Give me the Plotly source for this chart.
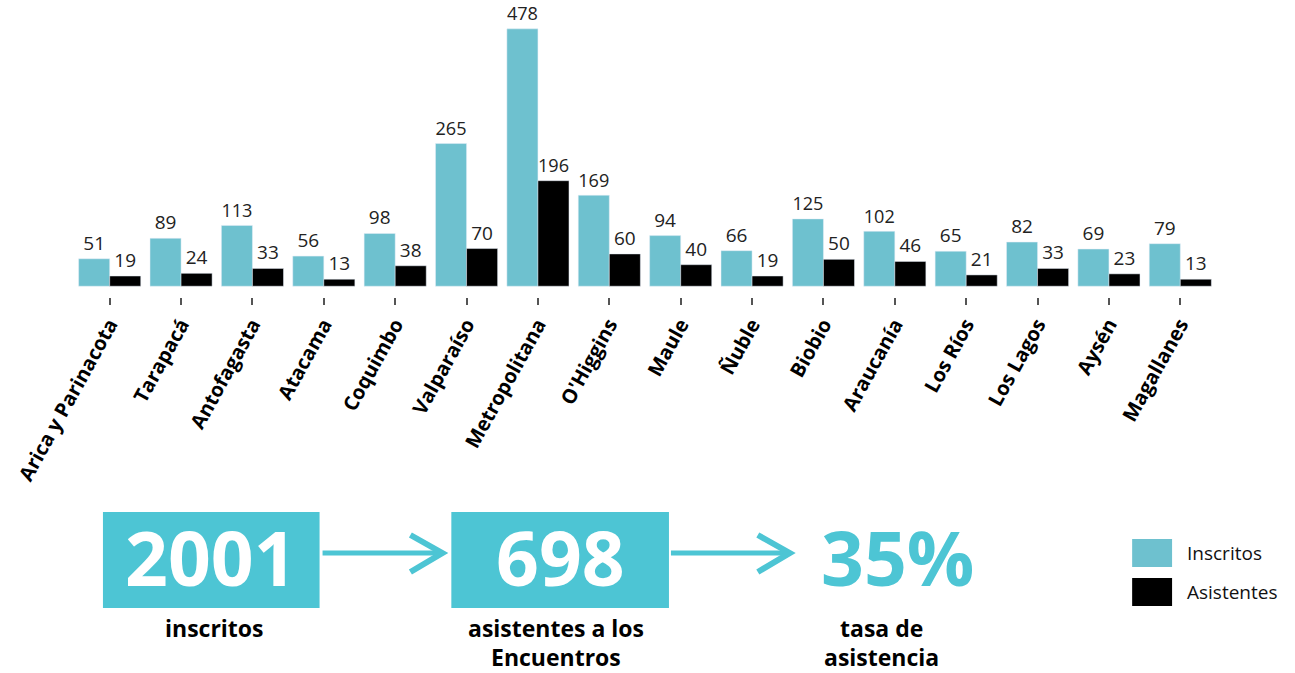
import plotly.graph_objects as go

regiones = ["Arica y Parinacota", "Tarapacá", "Antofagasta", "Atacama", "Coquimbo",
            "Valparaíso", "Metropolitana", "O'Higgins", "Maule", "Ñuble", "Biobio",
            "Araucanía", "Los Ríos", "Los Lagos", "Aysén", "Magallanes"]
inscritos = [51, 89, 113, 56, 98, 265, 478, 169, 94, 66, 125, 102, 65, 82, 69, 79]
asistentes = [19, 24, 33, 13, 38, 70, 196, 60, 40, 19, 50, 46, 21, 33, 23, 13]

C_INS = "#6EC1CF"
C_BOX = "#4DC5D4"
FONT = "Open Sans"

W, H = 1295, 673
ML, MR, MT, MB = 72, 79, 17, 376
PW = W - ML - MR
PH = H - MT - MB


def px(x):
    return (x - ML) / PW


def py(y):
    return (H - MB - y) / PH


fig = go.Figure()
fig.add_trace(go.Bar(x=regiones, y=inscritos, name="Inscritos", marker_color=C_INS,
                     text=inscritos, textposition="outside", cliponaxis=False,
                     textfont=dict(size=19, color="#222", family=FONT)))
fig.add_trace(go.Bar(x=regiones, y=asistentes, name="Asistentes", marker_color="#000000",
                     text=asistentes, textposition="outside", cliponaxis=False,
                     textfont=dict(size=19, color="#222", family=FONT)))

total_ins = sum(inscritos)
total_asi = sum(asistentes)
tasa = round(100 * total_asi / total_ins)

shapes = []
annotations = []
# boxes
for (x0, x1, val) in [(101, 318, total_ins), (450, 668, total_asi)]:
    shapes.append(dict(type="rect", xref="paper", yref="paper", x0=px(x0), x1=px(x1),
                       y0=py(608), y1=py(512), fillcolor=C_BOX, line=dict(width=0), layer="above"))
    annotations.append(dict(x=px((x0 + x1) / 2), y=py(557), xref="paper", yref="paper",
                            text=f"<b>{val}</b>", showarrow=False, xanchor="center", yanchor="middle",
                            font=dict(size=75, color="white", family=FONT)))
annotations.append(dict(x=px(897), y=py(557), xref="paper", yref="paper", text=f"<b>{tasa}%</b>",
                        showarrow=False, xanchor="center", yanchor="middle",
                        font=dict(size=75, color=C_BOX, family=FONT)))
# arrows
for (x0, x1) in [(321, 441), (670, 789)]:
    shapes.append(dict(type="line", xref="paper", yref="paper", x0=px(x0), x1=px(x1 - 2),
                       y0=py(553), y1=py(553), line=dict(color=C_BOX, width=5)))
    shapes.append(dict(type="path", xref="paper", yref="paper",
                       path=f"M {px(x1-32)},{py(535)} L {px(x1)},{py(553)} L {px(x1-32)},{py(572)}",
                       line=dict(color=C_BOX, width=6)))
# labels (one annotation per line)
labels = [(213, ["inscritos"]), (555, ["asistentes a los", "Encuentros"]), (881, ["tasa de", "asistencia"])]
for (x, lines) in labels:
    for i, t in enumerate(lines):
        annotations.append(dict(x=px(x), y=py(628 + 29 * i), xref="paper", yref="paper",
                                text=f"<b>{t}</b>", showarrow=False, xanchor="center",
                                yanchor="middle", borderpad=0,
                                font=dict(size=23, color="#000", family=FONT)))
# legend
for (y0, col, name) in [(539, C_INS, "Inscritos"), (578, "#000000", "Asistentes")]:
    shapes.append(dict(type="rect", xref="paper", yref="paper", x0=px(1132), x1=px(1172),
                       y0=py(y0 + 28), y1=py(y0), fillcolor=col, line=dict(width=0)))
    annotations.append(dict(x=px(1185), y=py(y0 + 14), xref="paper", yref="paper", text=name,
                            showarrow=False, xanchor="left", yanchor="middle",
                            font=dict(size=19, color="#111", family=FONT)))

fig.update_layout(
    width=W, height=H, margin=dict(l=ML, r=MR, t=MT, b=MB),
    barmode="group", bargap=0.13, bargroupgap=0,
    plot_bgcolor="white", paper_bgcolor="white", showlegend=False,
    shapes=shapes, annotations=annotations,
    font=dict(family=FONT),
)
fig.update_xaxes(tickangle=-61, ticks="outside", ticklen=7, tickwidth=2, tickcolor="#555",
                 showline=False, showgrid=False,
                 tickfont=dict(size=20, color="#000", family=FONT),
                 tickvals=regiones, ticktext=[f"<b>{r}</b>" for r in regiones])
fig.update_yaxes(range=[-20, 500], visible=False, showgrid=False, zeroline=False)

fig.write_html("out.html", config={"displayModeBar": False},
               post_script="document.body.style.margin='0';")
